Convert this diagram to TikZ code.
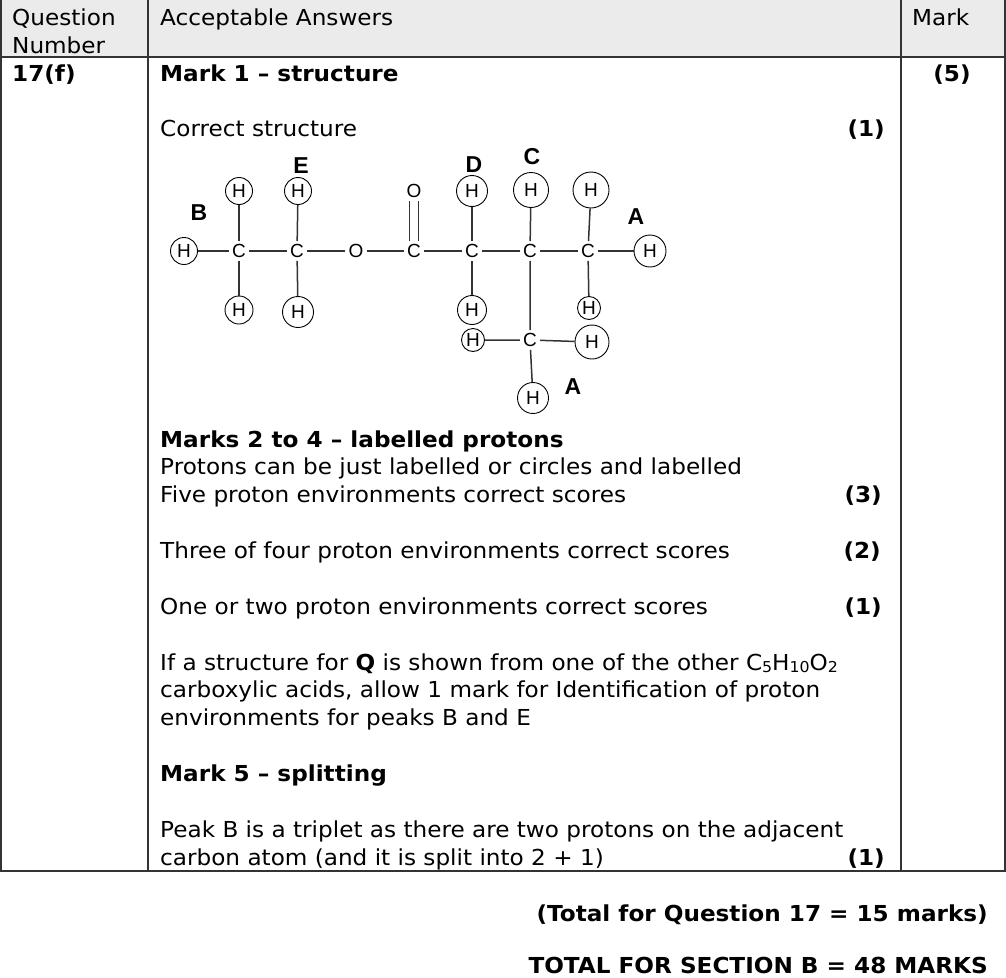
\documentclass[tikz,border=0pt]{standalone}
\usepackage{fontspec}
\setmainfont[FakeStretch=1.052]{DejaVu Sans}
\newfontfamily\arialfont{Liberation Sans}
\newcommand{\mysub}[1]{\raisebox{-2pt}{\fontsize{15}{15}\selectfont #1}}
\begin{document}
\begin{tikzpicture}[x=1pt,y=-1pt,
  txt/.style={anchor=base west, inner sep=0pt, font=\fontsize{22}{27.6}\selectfont},
  btxt/.style={anchor=base west, inner sep=0pt, font=\bfseries\fontsize{22}{27.6}\selectfont},
  bmark/.style={anchor=base east, inner sep=0pt, font=\bfseries\fontsize{22}{27.6}\selectfont},
  tab/.style={draw=black!80, line width=1.4pt},
  atom/.style={font=\arialfont\fontsize{19}{19}\selectfont, inner sep=3pt},
  hyd/.style={circle, draw, line width=0.9pt, inner sep=0pt, minimum size=#1, font=\arialfont\fontsize{19}{19}\selectfont},
  hyd/.default=28pt,
  lbl/.style={font=\arialfont\bfseries\fontsize{23}{23}\selectfont, inner sep=0pt},
  bond/.style={draw=black!80, line width=1.5pt}
]
\useasboundingbox (0,0) rectangle (1006,977);
% table
\fill[black!8] (1,0) rectangle (1005,57);
\draw[tab] (1,0) -- (1,871);
\draw[tab] (148,0) -- (148,871);
\draw[tab] (901,0) -- (901,871);
\draw[tab] (1005,0) -- (1005,871);
\draw[tab] (0,57) -- (1006,57);
\draw[tab] (0,871) -- (1006,871);
% header
\node[txt] (hq1) at (12,25) {Question};
\node[txt] (hq2) at (12,53) {Number};
\node[txt] (ha) at (160,25) {Acceptable Answers};
\node[txt] (hm) at (912,25) {Mark};
% body
\node[btxt] (qn) at (12,81) {17(f)};
\node[btxt] (m1) at (160,81) {Mark 1 – structure};
\node[anchor=base, inner sep=0pt, font=\bfseries\fontsize{22}{27.6}\selectfont] (tot) at (952,81) {(5)};
\node[txt] (cs) at (160,136) {Correct structure};
\node[bmark] (cs1) at (885,136) {(1)};
\node[btxt] (m24) at (160,447) {Marks 2 to 4 – labelled protons};
\node[txt] (l1) at (160,474) {Protons can be just labelled or circles and labelled};
\node[txt] (l2) at (160,502) {Five proton environments correct scores};
\node[bmark] (l2m) at (882,502) {(3)};
\node[txt] (l3) at (160,558) {Three of four proton environments correct scores};
\node[bmark] (l3m) at (881,558) {(2)};
\node[txt] (l4) at (160,614) {One or two proton environments correct scores};
\node[bmark] (l4m) at (882,614) {(1)};
\node[txt] (l5) at (160,670) {If a structure for \textbf{Q} is shown from one of the other C\mysub{5}H\mysub{10}O\mysub{2}};
\node[txt] (l6) at (160,697) {carboxylic acids, allow 1 mark for Identification of proton};
\node[txt] (l7) at (160,725) {environments for peaks B and E};
\node[btxt] (m5) at (160,781) {Mark 5 – splitting};
\node[txt] (l8) at (160,837) {Peak B is a triplet as there are two protons on the adjacent};
\node[txt] (l9) at (160,865) {carbon atom (and it is split into 2 + 1)};
\node[bmark] (l9m) at (885,865) {(1)};
\node[bmark] (tq) at (988,921) {(Total for Question 17 = 15 marks)};
\node[bmark] (ts) at (988,973) {TOTAL FOR SECTION B = 48 MARKS};
% molecule
\node[atom] (c1) at (239,251) {C};
\node[atom] (c2) at (297,251) {C};
\node[atom] (o1) at (356,251) {O};
\node[atom] (c3) at (414,251) {C};
\node[atom] (c4) at (472,251) {C};
\node[atom] (c5) at (530,251) {C};
\node[atom] (c6) at (588,251) {C};
\node[atom] (c7) at (530,340) {C};
\node[atom] (o2) at (414,191) {O};
\node[hyd=27pt] (h1) at (184,251) {H};
\node[hyd=27pt] (h2) at (239,191) {H};
\node[hyd=28pt] (h3) at (239,310) {H};
\node[hyd=27pt] (h4) at (298,191) {H};
\node[hyd=31pt] (h5) at (298,312) {H};
\node[hyd=31pt] (h6) at (472,191) {H};
\node[hyd=29pt] (h7) at (472,310) {H};
\node[hyd=35pt] (h8) at (531,190) {H};
\node[hyd=36pt] (h9) at (591,190) {H};
\node[hyd=23pt] (h10) at (589,308) {H};
\node[hyd=32pt] (h11) at (650,251) {H};
\node[hyd=23pt] (h12) at (473,340) {H};
\node[hyd=34pt] (h13) at (592,342) {H};
\node[hyd=31pt] (h14) at (533,398) {H};
\draw[bond] (h1) -- (c1) -- (c2) -- (o1) -- (c3) -- (c4) -- (c5) -- (c6) -- (h11);
\draw[bond] (h2) -- (c1) -- (h3);
\draw[bond] (h4) -- (c2) -- (h5);
\draw[bond] (h6) -- (c4) -- (h7);
\draw[bond] (h8) -- (c5) -- (c7) -- (h14);
\draw[bond] (h9) -- (c6) -- (h10);
\draw[bond] (h12) -- (c7) -- (h13);
\draw[bond, line width=1.1pt] ([xshift=-4.5pt]c3.north) -- ([xshift=-4.5pt]o2.south);
\draw[bond, line width=1.1pt] ([xshift=4.5pt]c3.north) -- ([xshift=4.5pt]o2.south);
\node[lbl] (lb) at (199,213) {B};
\node[lbl] (le) at (301,166) {E};
\node[lbl] (ld) at (474,165) {D};
\node[lbl] (lc) at (532,157) {C};
\node[lbl] (la1) at (636,217) {A};
\node[lbl] (la2) at (573,387) {A};
\end{tikzpicture}
\end{document}
